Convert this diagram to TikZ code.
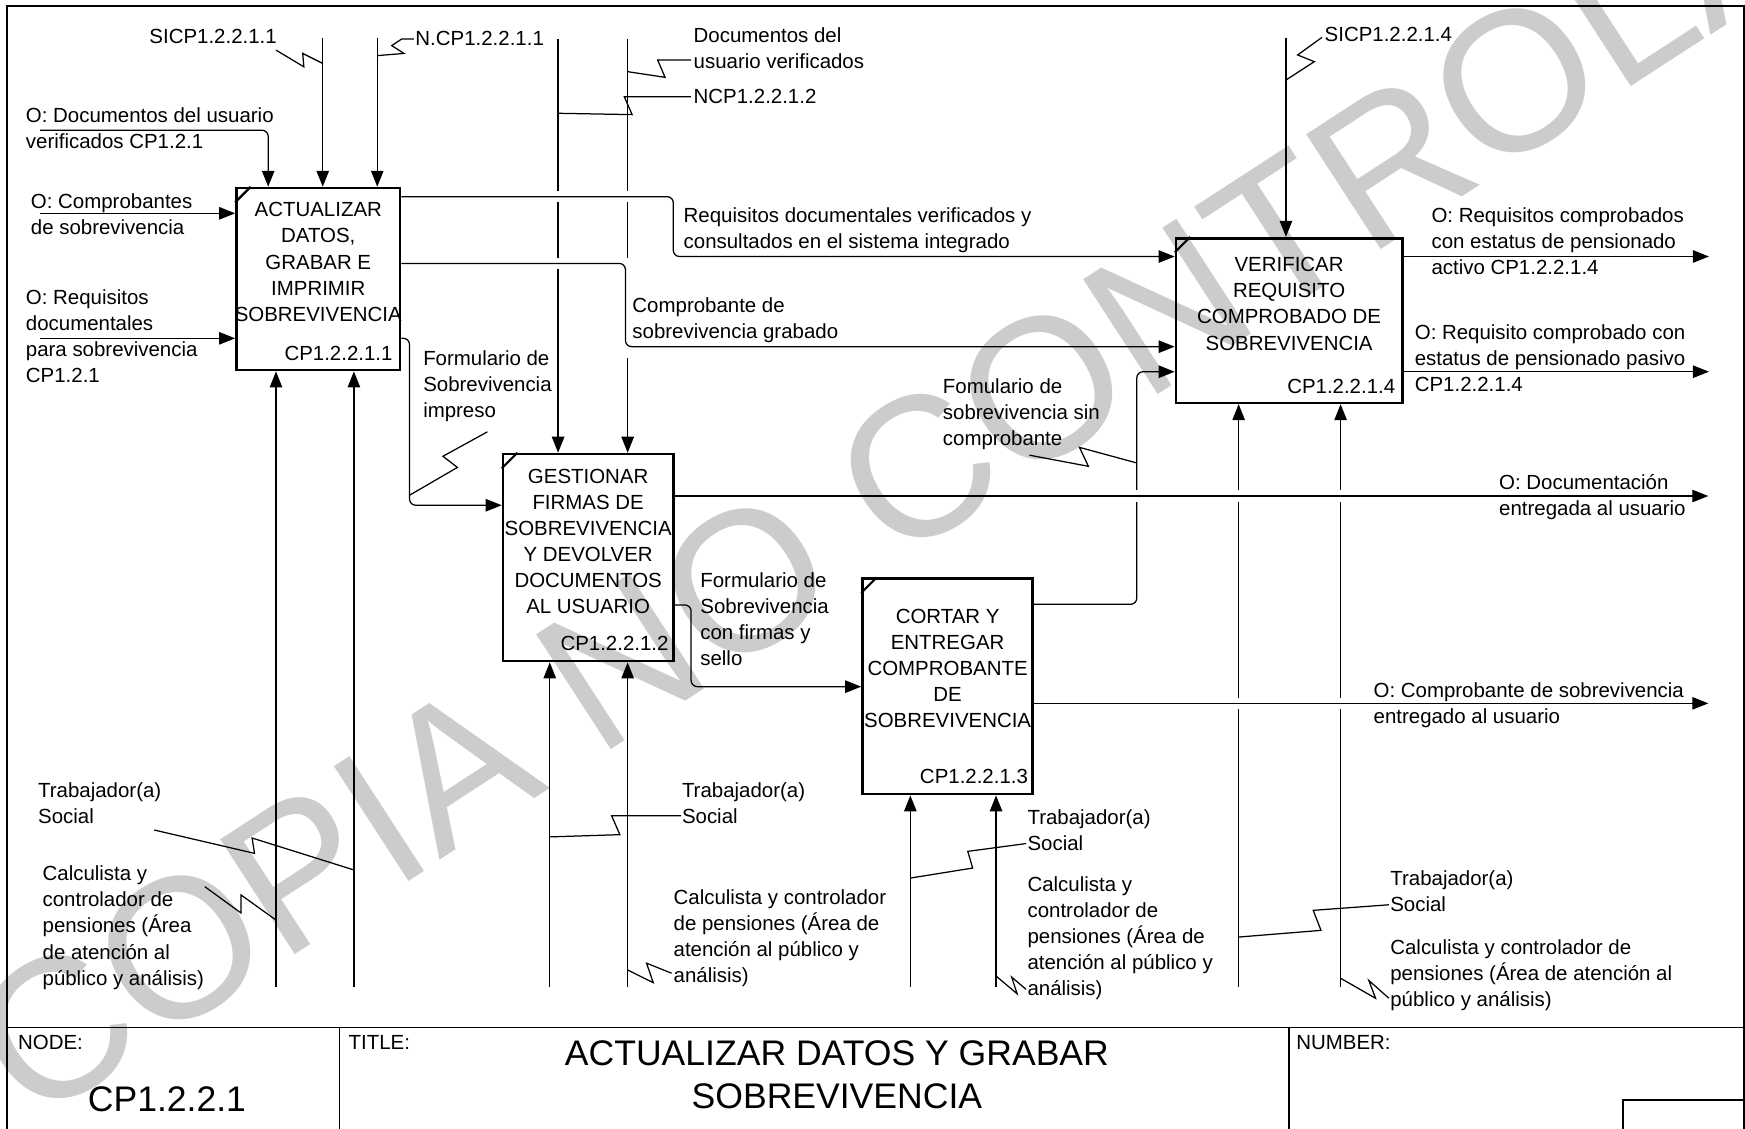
\documentclass[tikz,border=0pt]{standalone}
\usepackage{fontspec}
\setmainfont{Liberation Sans}
\usetikzlibrary{arrows.meta, positioning, calc}

\begin{document}
\begin{tikzpicture}[
    x=0.022cm, y=-0.022cm,
    font=\fontsize{11.5}{14.7}\selectfont,
    box/.style={rectangle, draw=black, line width=1.5pt, inner sep=0pt},
    boxtext/.style={anchor=north, align=center, inner sep=0pt},
    boxnum/.style={anchor=north east, inner sep=0pt},
    lbl/.style={anchor=north west, align=left, inner sep=0pt},
    wire/.style={line width=0.7pt},
    arrow/.style={->, >={Triangle[length=9pt, width=7pt]}, line width=0.7pt},
    roundbend/.style={rounded corners=3.5pt},
    squig/.style={line width=0.7pt},
    framel/.style={line width=0.9pt},
    big/.style={font=\fontsize{20}{24.3}\selectfont, align=center, inner sep=0pt},
    wmark/.style={text=black!20, font=\fontsize{112}{112}\selectfont, inner sep=0pt}
]
\useasboundingbox (0,0) rectangle (1568,1014);

% Watermark
\node[wmark, rotate=33, anchor=base west] (wm) at (28,1012) {COPIA NO CONTROLADA};

% Frame and title block
\draw[framel] (6.3,1030) |- (1567,5.4) -- (1567,1030);
\draw[framel] (6.3,923.4) -- (1567,923.4);
\draw[framel] (305,923.4) -- (305,1030);
\draw[framel] (1158,923.4) -- (1158,1030);
\draw[framel] (1458.6,1030) |- (1567,988.4);

% Boxes
\node[box, minimum width=3.234cm, minimum height=3.597cm] (A1) at (286,250.75) {};
\node[box, minimum width=3.366cm, minimum height=4.092cm] (A2) at (528.5,501) {};
\node[box, minimum width=3.366cm, minimum height=4.257cm] (A3) at (851.5,616.75) {};
\node[box, minimum width=4.473cm, minimum height=3.256cm] (A4) at (1158.35,288) {};
\foreach \b in {A1,A2,A3,A4}
  \draw[line width=1.2pt] ($(\b.north west)+(0,14)$) -- ($(\b.north west)+(14,0)$);

\node[boxtext] (A1t) at (286,181.7) {ACTUALIZAR\\DATOS,\\GRABAR E\\IMPRIMIR\\SOBREVIVENCIA};
\node[boxnum] (A1n) at (353,310.5) {CP1.2.2.1.1};
\node[boxtext] (A2t) at (528.5,421) {GESTIONAR\\FIRMAS DE\\SOBREVIVENCIA\\Y DEVOLVER\\DOCUMENTOS\\AL USUARIO};
\node[boxnum] (A2n) at (601,571) {CP1.2.2.1.2};
\node[boxtext] (A3t) at (851.5,547) {CORTAR Y\\ENTREGAR\\COMPROBANTE\\DE\\SOBREVIVENCIA};
\node[boxnum] (A3n) at (924,691) {CP1.2.2.1.3};
\node[boxtext] (A4t) at (1158.35,231) {VERIFICAR\\REQUISITO\\COMPROBADO DE\\SOBREVIVENCIA};
\node[boxnum] (A4n) at (1254,340.5) {CP1.2.2.1.4};

% Free ends
\coordinate (iDoc) at (36,117);
\coordinate (iComp) at (36,191.7);
\coordinate (iReq) at (36,304);
\coordinate (cSI1) at (290,34.5);
\coordinate (cN1) at (339,34.5);
\coordinate (cDoc2) at (501.5,35);
\coordinate (cN2) at (564,35);
\coordinate (cSI4) at (1155.5,34.5);
\coordinate (m1a) at (248,886.6);
\coordinate (m1b) at (318,886.6);
\coordinate (m2a) at (494,886.6);
\coordinate (m2b) at (564,886.6);
\coordinate (m3a) at (818,886.6);
\coordinate (m3b) at (895,886.6);
\coordinate (m4a) at (1113,886.6);
\coordinate (m4b) at (1204.6,886.6);
\coordinate (oAct) at (1535.6,230.5);
\coordinate (oPas) at (1535.6,334);
\coordinate (oDoc) at (1535,445.7);
\coordinate (oComp) at (1535,632);

% Inputs, controls, mechanisms
\draw[arrow, roundbend] (iDoc) -| (241,0 |- A1.north);
\draw[arrow] (iComp) -- (iComp -| A1.west);
\draw[arrow] (iReq) -- (iReq -| A1.west);
\draw[arrow] (cSI1) -- (cSI1 |- A1.north);
\draw[arrow] (cN1) -- (cN1 |- A1.north);
\draw[arrow] (cDoc2) -- (cDoc2 |- A2.north);
\draw[wire] (cN2) -- (564,232);
\draw[arrow] (564,322) -- (cN2 |- A2.north);
\draw[arrow] (cSI4) -- (cSI4 |- A4.north);
\foreach \m/\b in {m1a/A1, m1b/A1, m2a/A2, m2b/A2, m3a/A3, m3b/A3, m4a/A4, m4b/A4}
  \draw[arrow] (\m) -- (\m |- \b.south);

% Box to box
\draw[arrow, roundbend] (A1.east |- 0,304) -- (368,304) -- (368,454) -- (A2.west |- 0,454);
\draw[arrow, roundbend] (A2.east |- 0,543.6) -- (621,543.6) -- (621,617) -- (A3.west |- 0,617);
\draw[arrow, roundbend] (A3.east |- 0,543) -- (1021.5,543) -- (1021.5,334) -- (A4.west |- 0,334);
\draw[arrow] (A4.east |- 0,230.5) -- (oAct);
\draw[arrow] (A4.east |- 0,334) -- (oPas);

% Gaps where lines cross
\foreach \x/\y in {501.5/176.7, 501.5/236.7, 564/176.7, 1021.5/445.7, 1113/445.7, 1204.6/445.7, 1113/632, 1204.6/632}
  \fill[white] (\x-2.5,\y-5) rectangle (\x+2.5,\y+5);

\draw[arrow, roundbend] (A1.east |- 0,176.7) -- (605,176.7) -- (605,230.5) -- (A4.west |- 0,230.5);
\draw[arrow, roundbend] (A1.east |- 0,236.7) -- (562,236.7) -- (562,311.5) -- (A4.west |- 0,311.5);
\draw[arrow] (A2.east |- 0,445.7) -- (oDoc);
\draw[arrow] (A3.east |- 0,632) -- (oComp);

% Squiggles
\draw[squig] (248,45) -- (273,60) -- (272,48) -- (290,57);
\draw[squig] (372,35) -- (361,35) -- (352,41) -- (363,48) -- (339,50);
\draw[squig] (621,54) -- (591,54) -- (597.6,69.5) -- (564,64.4);
\draw[squig] (621,87) -- (561,87) -- (568,103) -- (501.5,101.8);
\draw[squig] (438,388) -- (398,410) -- (411,420) -- (368,445);
\draw[squig] (925,409) -- (978,419) -- (970,402) -- (1021.5,416);
\draw[squig] (1188,33.5) -- (1166,49.4) -- (1181,55.4) -- (1155.5,71.9);
\draw[squig] (138.5,745.8) -- (228.7,766.8) -- (226.5,753) -- (318,781.7);
\draw[squig] (184,796.7) -- (216.6,820.4) -- (216.6,804.2) -- (248,826.7);
\draw[squig] (612,733) -- (549.6,733) -- (557,750) -- (494,752);
\draw[squig] (603.5,874.5) -- (581,865.5) -- (587,883) -- (564,871.6);
\draw[squig] (922,758) -- (869.6,765) -- (874,780) -- (818,789);
\draw[squig] (922,889) -- (909,878) -- (914,893) -- (895,877);
\draw[squig] (1248,813) -- (1180,818) -- (1187,836) -- (1113,842);
\draw[squig] (1248,897) -- (1230,881) -- (1236,897) -- (1204.6,879);

% Labels
\node[lbl] (lSI1) at (134,26) {SICP1.2.2.1.1};
\node[lbl] (lN1) at (373,28) {N.CP1.2.2.1.1};
\node[lbl] (lDoc2) at (623,24.5) {Documentos del\\usuario verificados};
\node[lbl] (lN2) at (623,80) {NCP1.2.2.1.2};
\node[lbl] (lDoc) at (23,96) {O: Documentos del usuario\\verificados CP1.2.1};
\node[lbl] (lComp) at (27.5,174) {O: Comprobantes\\de sobrevivencia};
\node[lbl] (lReq) at (23,259.6) {O: Requisitos\\documentales\\para sobrevivencia\\CP1.2.1};
\node[lbl] (lReqV) at (614,186) {Requisitos documentales verificados y\\consultados en el sistema integrado};
\node[lbl] (lGrab) at (568,267) {Comprobante de\\sobrevivencia grabado};
\node[lbl] (lImp) at (380,315) {Formulario de\\Sobrevivencia\\impreso};
\node[lbl] (lSI4) at (1190,24.5) {SICP1.2.2.1.4};
\node[lbl] (lAct) at (1286,186) {O: Requisitos comprobados\\con estatus de pensionado\\activo CP1.2.2.1.4};
\node[lbl] (lPas) at (1271,291) {O: Requisito comprobado con\\estatus de pensionado pasivo\\CP1.2.2.1.4};
\node[lbl] (lSin) at (847,340) {Fomulario de\\sobrevivencia sin\\comprobante};
\node[lbl] (lEnt) at (1346.8,425.8) {O: Documentación\\entregada al usuario};
\node[lbl] (lFir) at (629,514) {Formulario de\\Sobrevivencia\\con firmas y\\sello};
\node[lbl] (lOComp) at (1234,613) {O: Comprobante de sobrevivencia\\entregado al usuario};
\node[lbl] (lT1) at (34,703) {Trabajador(a)\\Social};
\node[lbl] (lC1) at (38,777.7) {Calculista y\\controlador de\\pensiones (Área\\de atención al\\público y análisis)};
\node[lbl] (lT2) at (612.5,703) {Trabajador(a)\\Social};
\node[lbl] (lC2) at (605,798.7) {Calculista y controlador\\de pensiones (Área de\\atención al público y\\análisis)};
\node[lbl] (lT3) at (923,727) {Trabajador(a)\\Social};
\node[lbl] (lC3) at (923,787) {Calculista y\\controlador de\\pensiones (Área de\\atención al público y\\análisis)};
\node[lbl] (lT4) at (1249,782) {Trabajador(a)\\Social};
\node[lbl] (lC4) at (1249,843.6) {Calculista y controlador de\\pensiones (Área de atención al\\público y análisis)};

% Title block texts
\node[lbl] (tNode) at (16,930) {NODE:};
\node[lbl] (tTitle) at (313,930) {TITLE:};
\node[lbl] (tNum) at (1164.5,930) {NUMBER:};
\node[big] (nodeId) at (150,988) {CP1.2.2.1};
\node[big] (title) at (752,966) {ACTUALIZAR DATOS Y GRABAR\\SOBREVIVENCIA};

\end{tikzpicture}
\end{document}
